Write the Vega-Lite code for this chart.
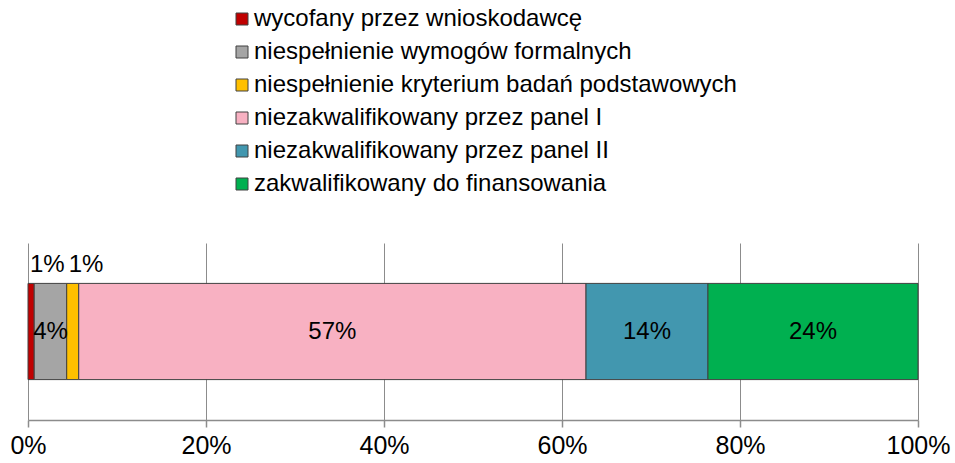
{
  "$schema": "https://vega.github.io/schema/vega-lite/v6.json",
  "autosize": {"type": "none"},
  "width": 890,
  "height": 177,
  "padding": {"left": 28, "top": 243, "right": 37, "bottom": 43},
  "background": "white",
  "config": {
    "view": {"stroke": null},
    "font": "Liberation Sans",
    "text": {"font": "Liberation Sans"}
  },
  "data": {
    "values": [
      {"kategoria": "wycofany przez wnioskodawcę", "order": 1, "value": 0.007},
      {"kategoria": "niespełnienie wymogów formalnych", "order": 2, "value": 0.0365},
      {"kategoria": "niespełnienie kryterium badań podstawowych", "order": 3, "value": 0.0135},
      {"kategoria": "niezakwalifikowany przez panel I", "order": 4, "value": 0.57},
      {"kategoria": "niezakwalifikowany przez panel II", "order": 5, "value": 0.137},
      {"kategoria": "zakwalifikowany do finansowania", "order": 6, "value": 0.236}
    ]
  },
  "transform": [
    {"stack": "value", "groupby": [], "sort": [{"field": "order", "order": "ascending"}], "as": ["v0", "v1"]},
    {"calculate": "(datum.v0 + datum.v1) / 2", "as": "mid"}
  ],
  "encoding": {
    "y": {"datum": "bar", "type": "nominal", "axis": null, "scale": {"paddingInner": 0, "paddingOuter": 0.42}}
  },
  "layer": [
    {
      "mark": {"type": "bar", "stroke": "#404040", "strokeWidth": 1},
      "encoding": {
        "x": {
          "field": "v0", "type": "quantitative",
          "scale": {"domain": [0, 1], "nice": false},
          "axis": {
            "title": null, "format": ".0%", "values": [0, 0.2, 0.4, 0.6, 0.8, 1],
            "grid": true, "gridColor": "#8c8c8c", "gridWidth": 1, "gridOpacity": 1,
            "domainColor": "#8c8c8c", "domainWidth": 1.5,
            "tickColor": "#8c8c8c", "tickSize": 7, "tickWidth": 1.5,
            "labelFontSize": 25, "labelColor": "#000000", "labelPadding": 6,
            "labelFont": "Liberation Sans", "labelFlush": false
          }
        },
        "x2": {"field": "v1"},
        "color": {
          "field": "kategoria", "type": "nominal",
          "scale": {
            "domain": ["wycofany przez wnioskodawcę", "niespełnienie wymogów formalnych", "niespełnienie kryterium badań podstawowych", "niezakwalifikowany przez panel I", "niezakwalifikowany przez panel II", "zakwalifikowany do finansowania"],
            "range": ["#C00000", "#A5A5A5", "#FFC000", "#F8B1C2", "#4297AF", "#00B050"]
          },
          "legend": {
            "title": null, "orient": "none", "legendX": 202, "legendY": -236,
            "direction": "vertical",
            "symbolType": "square", "symbolSize": 144, "symbolStrokeColor": "#404040", "symbolStrokeWidth": 1,
            "symbolOpacity": 1,
            "labelFontSize": 24, "labelColor": "#000000", "labelFont": "Liberation Sans",
            "labelOffset": 0, "rowPadding": 9, "labelLimit": 700
          }
        }
      }
    },
    {
      "transform": [{"filter": "datum.value >= 0.03"}],
      "mark": {"type": "text", "fontSize": 24, "color": "#000000"},
      "encoding": {
        "x": {"field": "mid", "type": "quantitative"},
        "text": {"field": "value", "type": "quantitative", "format": ".0%"}
      }
    },
    {
      "transform": [{"filter": "datum.value < 0.03"}],
      "mark": {"type": "text", "fontSize": 24, "color": "#000000", "align": "left", "dx": 2, "dy": -67},
      "encoding": {
        "x": {"field": "v0", "type": "quantitative"},
        "text": {"field": "value", "type": "quantitative", "format": ".0%"}
      }
    }
  ]
}
